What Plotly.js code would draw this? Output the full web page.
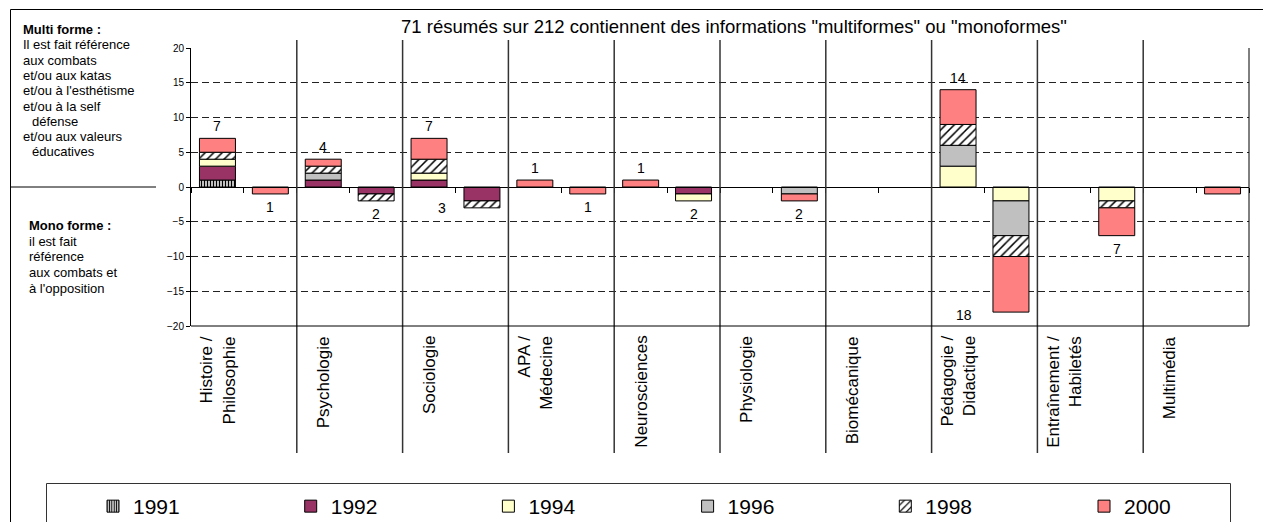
<!DOCTYPE html>
<html><head><meta charset="utf-8">
<script src="https://cdn.plot.ly/plotly-3.0.1.min.js"></script>
<style>html,body{margin:0;padding:0;background:#fff}#chart{width:1263px;height:522px}</style>
</head><body><div id="chart"></div>
<script>
// ---------- DATA ----------
const categories = ["Histoire /<br>Philosophie","Psychologie","Sociologie","APA /<br>Médecine","Neurosciences","Physiologie","Biomécanique","Pédagogie /<br>Didactique","Entraînement /<br>Habiletés","Multimédia"];
const years = ["1991","1992","1994","1996","1998","2000"];
// "Multi forme" counts (positive side)
const multi1991 = [1,0,0,0,0,0,0,0,0,0];
const multi1992 = [2,1,1,0,0,0,0,0,0,0];
const multi1994 = [1,0,1,0,0,0,0,3,0,0];
const multi1996 = [0,1,0,0,0,0,0,3,0,0];
const multi1998 = [1,1,2,0,0,0,0,3,0,0];
const multi2000 = [2,1,3,1,1,0,0,5,0,0];
// "Mono forme" counts (drawn below zero)
const mono1991 = [0,0,0,0,0,0,0,0,0,0];
const mono1992 = [0,1,2,0,1,0,0,0,0,0];
const mono1994 = [0,0,0,0,1,0,0,2,2,0];
const mono1996 = [0,0,0,0,0,1,0,5,0,0];
const mono1998 = [0,1,1,0,0,0,0,3,1,0];
const mono2000 = [1,0,0,1,0,1,0,8,4,1];
// total labels as printed on the chart
const multiLabels = ["7","4","7","1","1","","","14","",""];
const monoLabels  = ["1","2","3","1","2","2","","18","7",""];
const yTicks = [-20,-15,-10,-5,0,5,10,15,20];
const chartTitle = '71 résumés sur 212 contiennent des informations "multiformes" ou "monoformes"';
const multiHead = "Multi forme :";
const multiLines = ["Il est fait référence","aux combats","et/ou aux katas","et/ou à l'esthétisme","et/ou à la self","  défense","et/ou aux valeurs","  éducatives"];
const monoHead = "Mono forme :";
const monoLines = ["il est fait","référence","aux combats et","à l'opposition"];

// ---------- LAYOUT HELPERS ----------
const W=1263, H=522, L=191, R=1249, T=48, B=326;
const px2x = p => (p-L)/(R-L);
const px2y = p => (B-p)/(B-T);
const FONT = "Liberation Sans, Arial, sans-serif";

const multiSeries = [multi1991,multi1992,multi1994,multi1996,multi1998,multi2000];
const monoSeries  = [mono1991,mono1992,mono1994,mono1996,mono1998,mono2000];
const styles = [
  {color:"#ffffff", pattern:{shape:"|", fgcolor:"#000000", bgcolor:"#ffffff", size:3, solidity:0.5}},
  {color:"#993366"},
  {color:"#FFFFCC"},
  {color:"#C0C0C0"},
  {color:"#ffffff", pattern:{shape:"/", fgcolor:"#000000", bgcolor:"#ffffff", size:6, solidity:0.25}},
  {color:"#FF8080"}
];
const legendOf = ["legend","legend","legend","legend2","legend2","legend3"];

const nCat = categories.length;
const traces = years.map((yr, k) => {
  const xs = [], ys = [];
  for (let i=0;i<nCat;i++){
    xs.push(2*i+0.5); ys.push(multiSeries[k][i] ? multiSeries[k][i] : null);
    xs.push(2*i+1.5); ys.push(monoSeries[k][i] ? -monoSeries[k][i] : null);
  }
  const marker = {color: styles[k].color, line:{color:"#000000", width:1}};
  if (styles[k].pattern) marker.pattern = styles[k].pattern;
  return {type:"bar", name:yr, x:xs, y:ys, width:0.68, marker:marker, hoverinfo:"skip", legend:legendOf[k]};
});

const annotations = [];
// total labels
const specialMono = {2:{xshift:-40, yshift:0}, 7:{xshift:-47, yshift:-3}};
for (let i=0;i<nCat;i++){
  const mSum = multiSeries.reduce((s,a)=>s+a[i],0);
  const nSum = monoSeries.reduce((s,a)=>s+a[i],0);
  if (multiLabels[i]) annotations.push({xref:"x",yref:"y",x:2*i+0.5,y:mSum,text:multiLabels[i],showarrow:false,yanchor:"bottom",yshift:2,font:{family:FONT,size:14,color:"#000"}});
  if (monoLabels[i]) {
    const sp = specialMono[i];
    if (sp) annotations.push({xref:"x",yref:"y",x:2*i+1.5,y:-nSum,text:monoLabels[i],showarrow:false,yanchor:"middle",xshift:sp.xshift,yshift:sp.yshift,font:{family:FONT,size:14,color:"#000"}});
    else annotations.push({xref:"x",yref:"y",x:2*i+1.5,y:-nSum,text:monoLabels[i],showarrow:false,yanchor:"top",yshift:-3,font:{family:FONT,size:14,color:"#000"}});
  }
}
// category labels
categories.forEach((c,i)=>{
  annotations.push({xref:"x",yref:"paper",x:2*i+0.5,y:px2y(334),text:c,textangle:-90,align:"right",showarrow:false,xanchor:"center",yanchor:"top",font:{family:FONT,size:17,color:"#000"}});
});
// left explanatory texts
const lineStep = 15.3;
annotations.push({xref:"paper",yref:"paper",x:px2x(21),y:px2y(29.5),text:"<b>"+multiHead+"</b>",showarrow:false,xanchor:"left",yanchor:"middle",font:{family:FONT,size:13,color:"#000"}});
multiLines.forEach((t,j)=>{
  const indent = t.startsWith("  ") ? 9 : 0;
  annotations.push({xref:"paper",yref:"paper",x:px2x(21+indent),y:px2y(44.8+j*lineStep),text:t.trim(),showarrow:false,xanchor:"left",yanchor:"middle",font:{family:FONT,size:13,color:"#000"}});
});
annotations.push({xref:"paper",yref:"paper",x:px2x(27),y:px2y(225),text:"<b>"+monoHead+"</b>",showarrow:false,xanchor:"left",yanchor:"middle",font:{family:FONT,size:13,color:"#000"}});
monoLines.forEach((t,j)=>{
  annotations.push({xref:"paper",yref:"paper",x:px2x(27),y:px2y(241+j*15.7),text:t,showarrow:false,xanchor:"left",yanchor:"middle",font:{family:FONT,size:13,color:"#000"}});
});

const shapes = [];
// category dividers
for (let i=1;i<nCat;i++){
  shapes.push({type:"line",xref:"x",yref:"paper",x0:2*i,x1:2*i,y0:px2y(453),y1:px2y(40),line:{color:"#333333",width:1.5},layer:"above"});
}
// plot right border & bottom
shapes.push({type:"line",xref:"paper",yref:"paper",x0:1,x1:1,y0:0,y1:1,line:{color:"#000",width:1}});
shapes.push({type:"line",xref:"paper",yref:"paper",x0:0,x1:1,y0:0,y1:0,line:{color:"#000",width:1}});
// left box separator
shapes.push({type:"line",xref:"paper",yref:"paper",x0:px2x(10),x1:px2x(156),y0:px2y(187),y1:px2y(187),line:{color:"#000",width:1}});
// outer frame
shapes.push({type:"rect",xref:"paper",yref:"paper",x0:px2x(10.5),x1:px2x(1275),y0:px2y(9.5),y1:px2y(540),line:{color:"#000",width:1}});
// legend frame
shapes.push({type:"rect",xref:"paper",yref:"paper",x0:px2x(46.5),x1:px2x(1230.5),y0:px2y(483.5),y1:px2y(540),line:{color:"#333",width:1}});

const legendStep = 198.2, legendStart = 93;
const legendBase = {orientation:"h", xanchor:"left", y:px2y(506.5), yanchor:"middle", entrywidth:legendStep-45.5, entrywidthmode:"pixels", font:{family:FONT,size:21,color:"#000"}, bgcolor:"rgba(0,0,0,0)", borderwidth:0, traceorder:"normal"};

const layout = {
  width:W, height:H,
  margin:{l:L, r:W-R, t:T, b:H-B, pad:0, autoexpand:false},
  paper_bgcolor:"#fff", plot_bgcolor:"#fff",
  barmode:"relative",
  font:{family:FONT, color:"#000"},
  title:{text:chartTitle, xref:"container", yref:"container", x:734/W, y:1-27/H, xanchor:"center", yanchor:"middle", font:{family:FONT,size:18.5,color:"#000"}},
  xaxis:{range:[0,2*nCat], tickvals:Array.from({length:2*nCat+1},(_, i)=>i), showticklabels:false, ticks:"outside", ticklen:5, tickcolor:"#000", showgrid:false, zeroline:false, showline:true, linecolor:"#000", linewidth:1, anchor:"free", position:0.5, fixedrange:true},
  yaxis:{range:[-20,20], tickvals:yTicks, ticks:"outside", ticklen:4, tickcolor:"#000", showline:true, linecolor:"#000", linewidth:1, showgrid:true, gridcolor:"#222", griddash:"7px,4px", gridwidth:1, zeroline:false, tickfont:{family:FONT,size:10,color:"#000"}, fixedrange:true},
  showlegend:true,
  legend: Object.assign({}, legendBase, {x:px2x(legendStart)}),
  legend2: Object.assign({}, legendBase, {x:px2x(legendStart+3*legendStep)}),
  legend3: Object.assign({}, legendBase, {x:px2x(legendStart+5*legendStep), entrywidth:0}),
  annotations:annotations,
  shapes:shapes,
  hovermode:false
};
Plotly.newPlot("chart", traces, layout, {displayModeBar:false, staticPlot:true});
</script>
</body></html>
